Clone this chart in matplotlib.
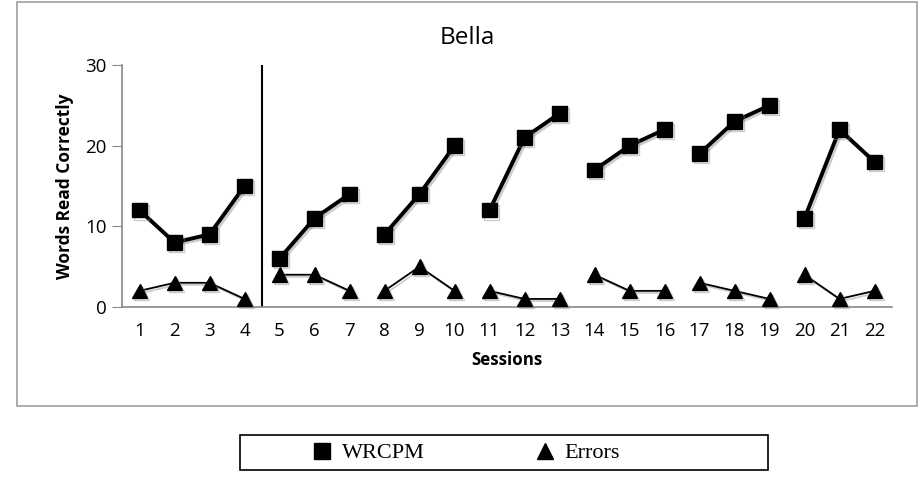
import numpy as np
import matplotlib
matplotlib.use('Agg')
import matplotlib.pyplot as plt
import matplotlib.patheffects as pe
from matplotlib.patches import Rectangle
from matplotlib.lines import Line2D

# session blocks (phase 1 has 4 sessions, then blocks of 3)
blocks = [[1, 2, 3, 4], [5, 6, 7], [8, 9, 10], [11, 12, 13],
          [14, 15, 16], [17, 18, 19], [20, 21, 22]]
wrcpm = [12, 8, 9, 15, 6, 11, 14, 9, 14, 20, 12, 21, 24,
         17, 20, 22, 19, 23, 25, 11, 22, 18]
errors = [2, 3, 3, 1, 4, 4, 2, 2, 5, 2, 2, 1, 1,
          4, 2, 2, 3, 2, 1, 4, 1, 2]
phase_line = 4.5

W, H = 923, 482
fig = plt.figure(figsize=(W / 100, H / 100), dpi=100)
fig.add_artist(Rectangle((17 / W, 1 - 406 / H), 900 / W, 404 / H,
                         transform=fig.transFigure, fill=False,
                         edgecolor='#a0a0a0', linewidth=1.2))

ax = fig.add_axes([122 / W, 1 - 307 / H, 770 / W, 242 / H])
sans = 'Open Sans'

shadow = [pe.SimpleLineShadow(offset=(1.5, -1.5), shadow_color='gray', alpha=0.4), pe.Normal()]

i = 0
for b in blocks:
    n = len(b)
    ax.plot(b, wrcpm[i:i + n], color='black', lw=2.8, marker='s', ms=10.5,
            path_effects=shadow, clip_on=False, zorder=3)
    ax.plot(b, errors[i:i + n], color='black', lw=1.3, marker='^', ms=10.5,
            path_effects=shadow, clip_on=False, zorder=3)
    i += n

ax.axvline(phase_line, color='black', lw=1.5)

ax.set_xlim(0.5, 22.5)
ax.set_ylim(0, 30)
ax.set_yticks([0, 10, 20, 30])
ax.set_xticks(range(1, 23))
for s in ['top', 'right']:
    ax.spines[s].set_visible(False)
for s in ['left', 'bottom']:
    ax.spines[s].set_color('#888888')
    ax.spines[s].set_linewidth(1.2)
ax.tick_params(axis='y', length=7, color='#888888', labelsize=13.5, pad=4)
ax.tick_params(axis='x', length=0, labelsize=13.5, pad=11)
for lab in ax.get_xticklabels() + ax.get_yticklabels():
    lab.set_family(sans)

ax.set_xlabel('Sessions', family=sans, fontweight='bold', fontsize=12.2, labelpad=8)
ax.set_ylabel('Words Read Correctly', family=sans, fontweight='bold', fontsize=12.5, labelpad=8)
fig.text(467 / W, 1 - 38 / H, 'Bella', family=sans, fontsize=17.5, ha='center', va='center')

# legend box
fig.add_artist(Rectangle((240 / W, 1 - 470 / H), 528 / W, 35 / H,
                         transform=fig.transFigure, fill=False,
                         edgecolor='black', linewidth=1.2))
handles = [Line2D([], [], color='black', marker='s', ms=11, ls='none'),
           Line2D([], [], color='black', marker='^', ms=11, ls='none')]
fig.legend(handles, ['WRCPM', 'Errors'], loc='center left',
           bbox_to_anchor=(293 / W, 1 - 453 / H), ncol=2, frameon=False,
           handlelength=0.8, handletextpad=0.5, columnspacing=5.0,
           prop={'family': 'Liberation Serif', 'size': 16})

fig.savefig('out.png', dpi=100)
